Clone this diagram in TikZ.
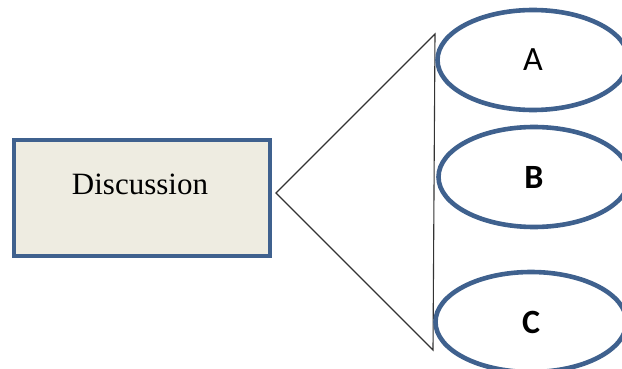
\documentclass[tikz,border=0pt]{standalone}
\usepackage{fontspec}
\setmainfont{Liberation Serif}
\newfontfamily\calib{Carlito}
\usetikzlibrary{shapes.geometric}
\definecolor{ringblue}{HTML}{3F618E}
\definecolor{boxfill}{HTML}{EEECE1}
\tikzset{
  mainbox/.style={draw=ringblue, line width=4.6pt, fill=boxfill, minimum width=256pt, minimum height=116pt, inner sep=0pt},
  ring/.style={draw=ringblue, line width=4.6pt, ellipse, minimum width=191pt, minimum height=100pt, inner sep=0pt, font=\calib\fontsize{34}{34}\selectfont},
  funnel/.style={draw=black!80, line width=1.1pt, line join=miter}
}
\begin{document}
\begin{tikzpicture}[x=1pt,y=-1pt]
\useasboundingbox (0,0) rectangle (622,369);
\node[mainbox] (disc) at (142,198) {};
\node[font=\fontsize{31}{31}\selectfont] (disctext) at (140,184) {Discussion};
\coordinate (apex) at (276,193);
\coordinate (top) at (435,34);
\coordinate (bot) at (433,350);
\draw[funnel] (apex) -- (top) -- (bot) -- cycle;
\node[ring] (A) at (533,60) {A};
\node[ring] (B) at (534,177) {\bfseries B};
\node[ring] (C) at (531,322) {\bfseries C};
\end{tikzpicture}
\end{document}
